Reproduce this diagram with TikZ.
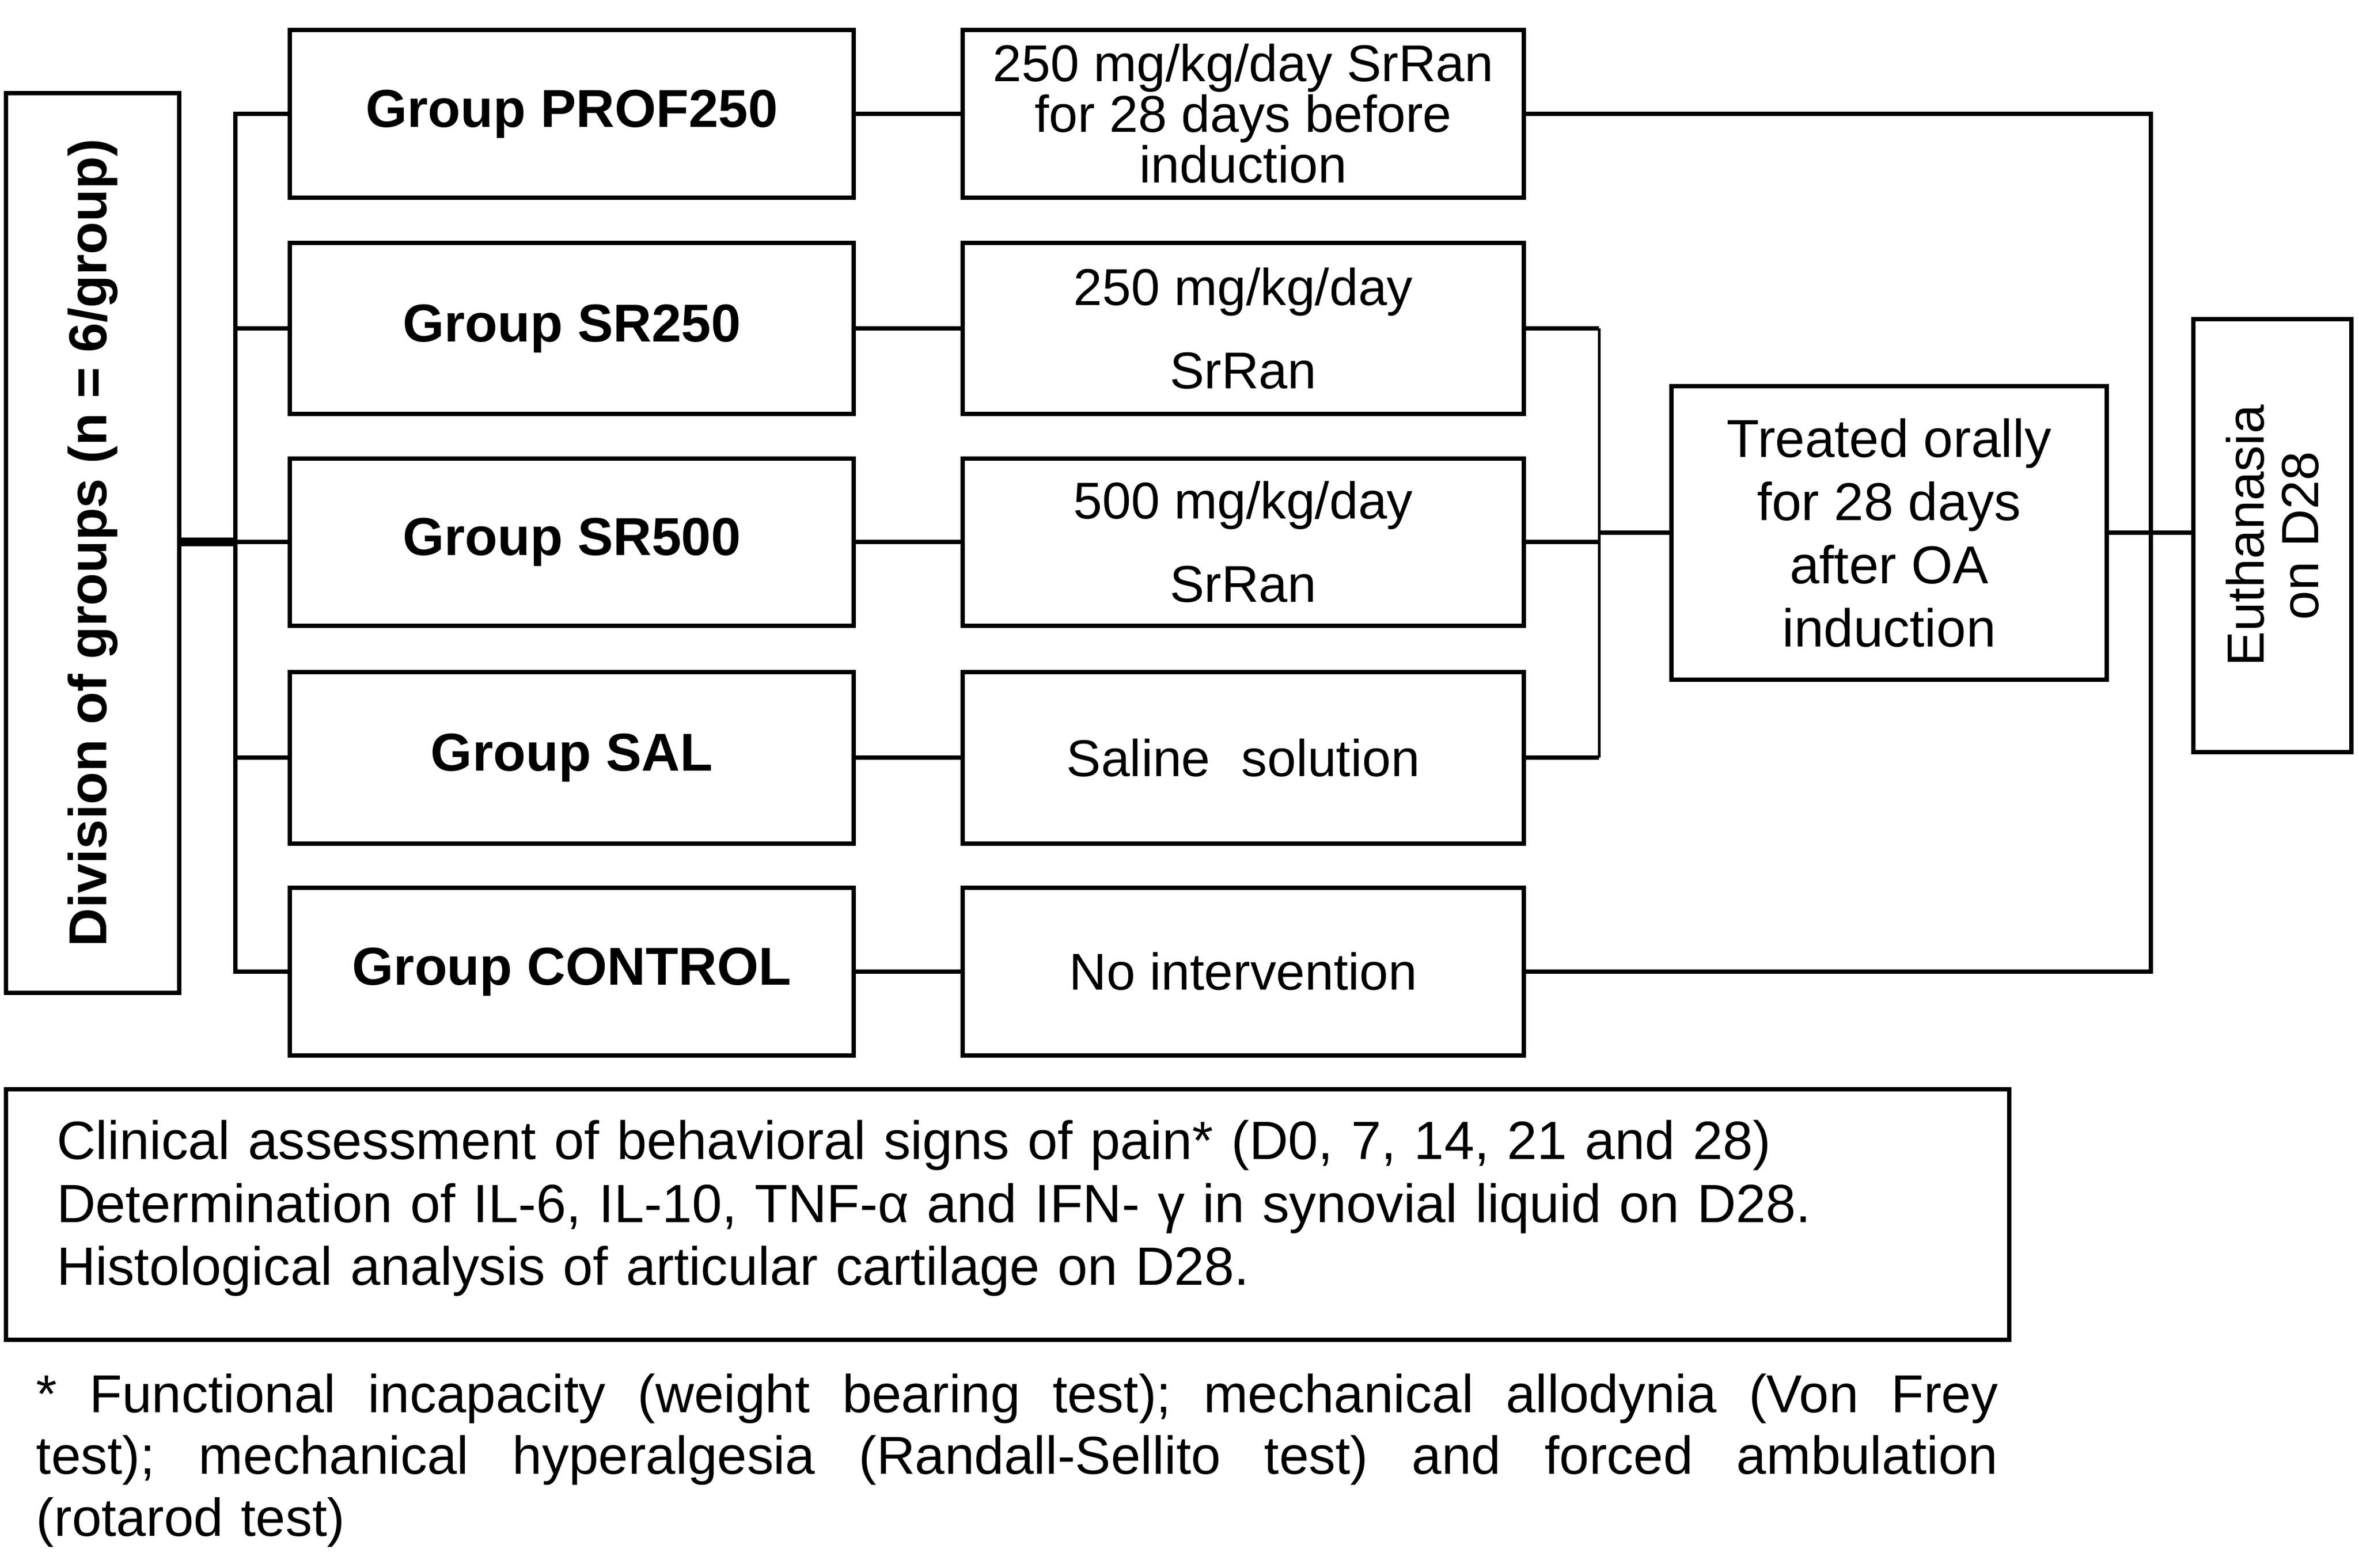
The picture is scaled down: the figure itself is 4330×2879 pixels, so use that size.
\documentclass[tikz,border=0pt]{standalone}
\usepackage{fontspec}
\setmainfont{Liberation Sans}
\begin{document}
\begin{tikzpicture}[x=0.1pt,y=-0.1pt,
  box/.style={draw, line width=0.8pt, rectangle, inner sep=0pt, align=center},
  grp/.style={box, minimum width=103.5pt, font=\bfseries\fontsize{9.8pt}{11.6pt}\selectfont},
  trt/.style={box, minimum width=103pt, font=\fontsize{9.5pt}{9.3pt}\selectfont},
  trttwo/.style={trt, font=\fontsize{9.5pt}{15.3pt}\selectfont},
  conn/.style={line width=0.8pt},
  bracketline/.style={line width=0.5pt},
  heavy/.style={line width=1.6pt}]
\useasboundingbox (0,0) rectangle (4330,2879);

% division box (rotated: south = right side)
\node[box, rotate=90, minimum width=165.2pt, minimum height=31.8pt,
      font=\bfseries\fontsize{9.8pt}{11.6pt}\selectfont] (div) at (170,997)
      {Division of groups (n = 6/group)};

% groups
\node[grp, minimum height=30.8pt] (g1) at (1049.5,209) {Group PROF250};
\node[grp, minimum height=31.4pt] (g2) at (1049.5,603) {Group SR250};
\node[grp, minimum height=30.7pt] (g3) at (1049.5,995.5) {Group SR500};
\node[grp, minimum height=31.5pt] (g4) at (1049.5,1391.5) {Group SAL};
\node[grp, minimum height=30.8pt] (g5) at (1049.5,1784) {Group CONTROL};

% treatments
\node[trt, minimum height=30.8pt] (t1) at (2282,209) {250 mg/kg/day SrRan\\for 28 days before\\induction};
\node[trttwo, minimum height=31.4pt] (t2) at (2282,603) {250 mg/kg/day\\SrRan};
\node[trttwo, minimum height=30.7pt] (t3) at (2282,995.5) {500 mg/kg/day\\SrRan};
\node[trt, minimum height=31.5pt] (t4) at (2282,1391.5) {Saline\hspace{0.6em}solution};
\node[trt, minimum height=30.8pt] (t5) at (2282,1784) {No intervention};

% treated orally
\node[box, minimum width=79.9pt, minimum height=53.9pt,
      font=\fontsize{9.8pt}{11.6pt}\selectfont] (treat) at (3467.5,978.5)
      {Treated orally\\for 28 days\\after OA\\induction};

% euthanasia (rotated: north = left side)
\node[box, rotate=90, minimum width=79.5pt, minimum height=29pt,
      font=\fontsize{9.6pt}{10pt}\selectfont] (euth) at (4171,983.5)
      {Euthanasia\\on D28};

% assessment box
\node[draw, line width=0.8pt, rectangle, minimum width=367.7pt, minimum height=46pt,
      inner sep=0pt] (assessbox) at (1849.5,2230) {};
\node[anchor=base west, inner sep=0pt, text width=350pt, align=left,
      font=\fontsize{9.9pt}{11.6pt}\selectfont] (assess) at (102,2128)
      {Clinical assessment of behavioral signs of pain* (D0, 7, 14, 21 and 28)\\
       Determination of IL-6, IL-10, TNF-α and IFN- γ in synovial liquid on D28.\\
       Histological analysis of articular cartilage on D28.};

% footnote (justified lines)
\node[anchor=base west, inner sep=0pt, text width=360.1pt, align=left,
      font=\fontsize{9.8pt}{11.4pt}\selectfont] (foot) at (65,2593)
      {\makebox[360.1pt][l]{*\hfill Functional\hfill incapacity\hfill (weight\hfill bearing\hfill test);\hfill mechanical\hfill allodynia\hfill (Von\hfill Frey}\\
       \makebox[360.1pt][l]{test);\hfill mechanical\hfill hyperalgesia\hfill (Randall-Sellito\hfill test)\hfill and\hfill forced\hfill ambulation}\\
       (rotarod test)};

% left trunk
\coordinate (trk) at (432,0);
\draw[conn] (g1.west) -- (g1.west -| trk) -- (g5.west -| trk) -- (g5.west);
\foreach \g in {g2,g3,g4} \draw[conn] (\g.west) -- (\g.west -| trk);
\draw[heavy] (div.south |- g3.west) -- (g3.west -| trk);

% group to treatment
\foreach \i in {1,...,5} \draw[conn] (g\i.east) -- (t\i.west);

% bracket to treated orally
\coordinate (br) at (2935,0);
\draw[conn] (t2.east) -- (t2.east -| br);
\draw[conn] (t4.east) -- (t4.east -| br);
\draw[bracketline] (t2.east -| br) -- (t4.east -| br);
\draw[conn] (t3.east) -- (t3.east -| br);
\draw[conn] (treat.west -| br) -- (treat.west);

% right collector
\coordinate (rl) at (3948,0);
\draw[conn] (t1.east) -- (t1.east -| rl) -- (t5.east -| rl) -- (t5.east);
\draw[conn] (treat.east) -- (treat.east -| euth.north);
\end{tikzpicture}
\end{document}
